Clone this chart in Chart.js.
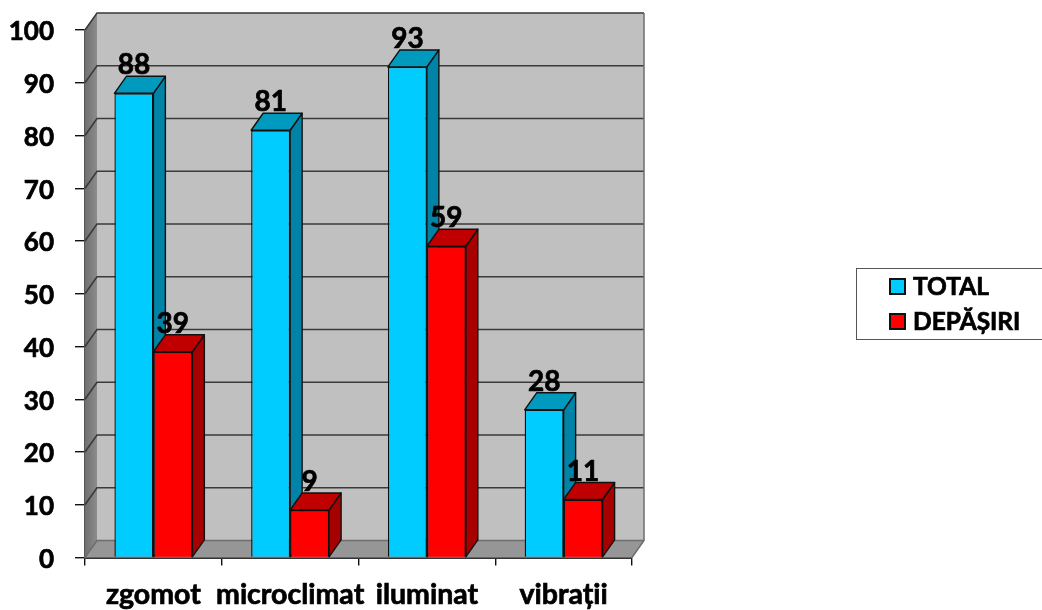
<!DOCTYPE html>
<html>
<head>
<meta charset="utf-8">
<script src="https://cdn.jsdelivr.net/npm/chart.js@4"></script>
<style>
  html, body { margin: 0; padding: 0; background: #fff; }
  canvas { display: block; }
</style>
</head>
<body>
<canvas id="chart" width="1042" height="610"></canvas>
<script>
// ----- Data -----
const categories = ["zgomot", "microclimat", "iluminat", "vibrații"];
const totalValues = [88, 81, 93, 28];
const depasiriValues = [39, 9, 59, 11];
const seriesNames = ["TOTAL", "DEPĂȘIRI"];

// ----- Look -----
const font = "Lato, Carlito, sans-serif";
const depthX = 12;
const depthY = 17;
const textStroke = 0.7;
const faces = [
  { front: "#00CCFF", side: "#0083A6", top: "#009ABF" },
  { front: "#FF0000", side: "#A60000", top: "#C00000" },
];

function poly(ctx, pts, fill, stroke, lw) {
  ctx.beginPath();
  pts.forEach((p, i) => i ? ctx.lineTo(p[0], p[1]) : ctx.moveTo(p[0], p[1]));
  ctx.closePath();
  if (fill) { ctx.fillStyle = fill; ctx.fill(); }
  if (stroke) { ctx.strokeStyle = stroke; ctx.lineWidth = lw; ctx.stroke(); }
}

function drawDepth(ctx, meta, c) {
  meta.data.forEach(bar => {
    const l = bar.x - bar.width / 2;
    const r = bar.x + bar.width / 2;
    poly(ctx, [[r, bar.y], [r + depthX, bar.y - depthY],
      [r + depthX, bar.base - depthY], [r, bar.base]], c.side, "#111", 1.4);
    poly(ctx, [[l, bar.y], [l + depthX, bar.y - depthY],
      [r + depthX, bar.y - depthY], [r, bar.y]], c.top, "#111", 1.4);
  });
}

function boldText(ctx, text, x, y) {
  ctx.fillStyle = "#000";
  ctx.strokeStyle = "#000";
  ctx.lineWidth = textStroke;
  ctx.fillText(text, x, y);
  ctx.strokeText(text, x, y);
}

// back wall, left wall, floor and gridlines
const wallsPlugin = {
  id: "walls",
  beforeDatasetsDraw(chart) {
    const { ctx, chartArea: a, scales: { y } } = chart;
    ctx.save();
    const grad = ctx.createLinearGradient(a.left, 0, a.left + depthX, 0);
    grad.addColorStop(0, "#707070");
    grad.addColorStop(1, "#8C8C8C");
    poly(ctx, [[a.left, a.top], [a.left + depthX, a.top - depthY],
      [a.left + depthX, a.bottom - depthY], [a.left, a.bottom]], grad);
    poly(ctx, [[a.left + depthX, a.top - depthY], [a.right + depthX, a.top - depthY],
      [a.right + depthX, a.bottom - depthY], [a.left + depthX, a.bottom - depthY]], "#C0C0C0");
    poly(ctx, [[a.left, a.bottom], [a.left + depthX, a.bottom - depthY],
      [a.right + depthX, a.bottom - depthY], [a.right, a.bottom]], "#969696");

    y.ticks.forEach(t => {
      const py = y.getPixelForValue(t.value);
      ctx.beginPath();
      ctx.moveTo(a.left, py);
      ctx.lineTo(a.left + depthX, py - depthY);
      ctx.lineTo(a.right + depthX, py - depthY);
      ctx.strokeStyle = t.value === 0 ? "#6E6E6E" : "#3A3A3A";
      ctx.lineWidth = 1.6;
      ctx.stroke();
    });
    ctx.beginPath();
    ctx.moveTo(a.right + depthX, a.top - depthY);
    ctx.lineTo(a.right + depthX, a.bottom - depthY);
    ctx.lineTo(a.right, a.bottom);
    ctx.strokeStyle = "#6E6E6E";
    ctx.lineWidth = 1.5;
    ctx.stroke();
    ctx.restore();
  },
  // the library paints later datasets first, so blue depth then a red repaint on top of it
  afterDatasetsDraw(chart) {
    const { ctx } = chart;
    const blue = chart.getDatasetMeta(0);
    const red = chart.getDatasetMeta(1);
    ctx.save();
    ctx.lineJoin = "round";
    drawDepth(ctx, blue, faces[0]);
    red.data.forEach(bar => bar.draw(ctx));
    drawDepth(ctx, red, faces[1]);
    ctx.restore();
  },
  // value labels and the legend box
  afterDraw(chart) {
    const { ctx } = chart;
    ctx.save();
    ctx.font = "bold 28px " + font;
    ctx.textAlign = "center";
    ctx.textBaseline = "middle";
    chart.data.datasets.forEach((ds, i) => {
      chart.getDatasetMeta(i).data.forEach((bar, j) => {
        boldText(ctx, ds.data[j], bar.x, bar.y - 28);
      });
    });

    ctx.strokeStyle = "#555";
    ctx.lineWidth = 1;
    ctx.strokeRect(856.5, 268.5, 200, 71);
    ctx.font = "bold 24.5px " + font;
    ctx.textAlign = "left";
    seriesNames.forEach((name, i) => {
      const rowY = 287 + i * 35;
      ctx.fillStyle = faces[i].front;
      ctx.strokeStyle = "#111";
      ctx.lineWidth = 2;
      ctx.fillRect(890, rowY - 8, 15, 15);
      ctx.strokeRect(890, rowY - 8, 15, 15);
      boldText(ctx, name, 913, rowY);
    });
    ctx.restore();
  },
};

new Chart(document.getElementById("chart").getContext("2d"), {
  type: "bar",
  data: {
    labels: categories,
    datasets: [
      { label: seriesNames[0], data: totalValues, backgroundColor: faces[0].front, borderColor: "#111", borderWidth: 1.4 },
      { label: seriesNames[1], data: depasiriValues, backgroundColor: faces[1].front, borderColor: "#111", borderWidth: 1.4 },
    ],
  },
  options: {
    responsive: false,
    animation: false,
    layout: { padding: { top: 30, right: 410, bottom: 0, left: 0 } },
    datasets: { bar: { categoryPercentage: 0.57, barPercentage: 1 } },
    plugins: { legend: { display: false }, tooltip: { enabled: false } },
    scales: {
      x: {
        afterFit(s) { s.height = 52.5; s.paddingLeft = 0; s.paddingRight = 0; },
        grid: { drawOnChartArea: false, color: "#111", tickLength: 8, lineWidth: 1.4 },
        border: { color: "#333", width: 2 },
        ticks: { color: "#000", padding: 12, maxRotation: 0, autoSkip: false, textStrokeWidth: textStroke, textStrokeColor: "#000", font: { family: font, size: 28.5, weight: "bold" } },
      },
      y: {
        min: 0,
        max: 100,
        afterFit(s) { s.width = 85; s.paddingTop = 0; s.paddingBottom = 0; },
        grid: { drawOnChartArea: false, color: "#111", tickLength: 10, lineWidth: 1.4 },
        border: { color: "#555", width: 2 },
        ticks: { stepSize: 10, color: "#000", padding: 21, labelOffset: 2, textStrokeWidth: textStroke, textStrokeColor: "#000", font: { family: font, size: 26, weight: "bold" } },
      },
    },
  },
  plugins: [wallsPlugin],
});
</script>
</body>
</html>
